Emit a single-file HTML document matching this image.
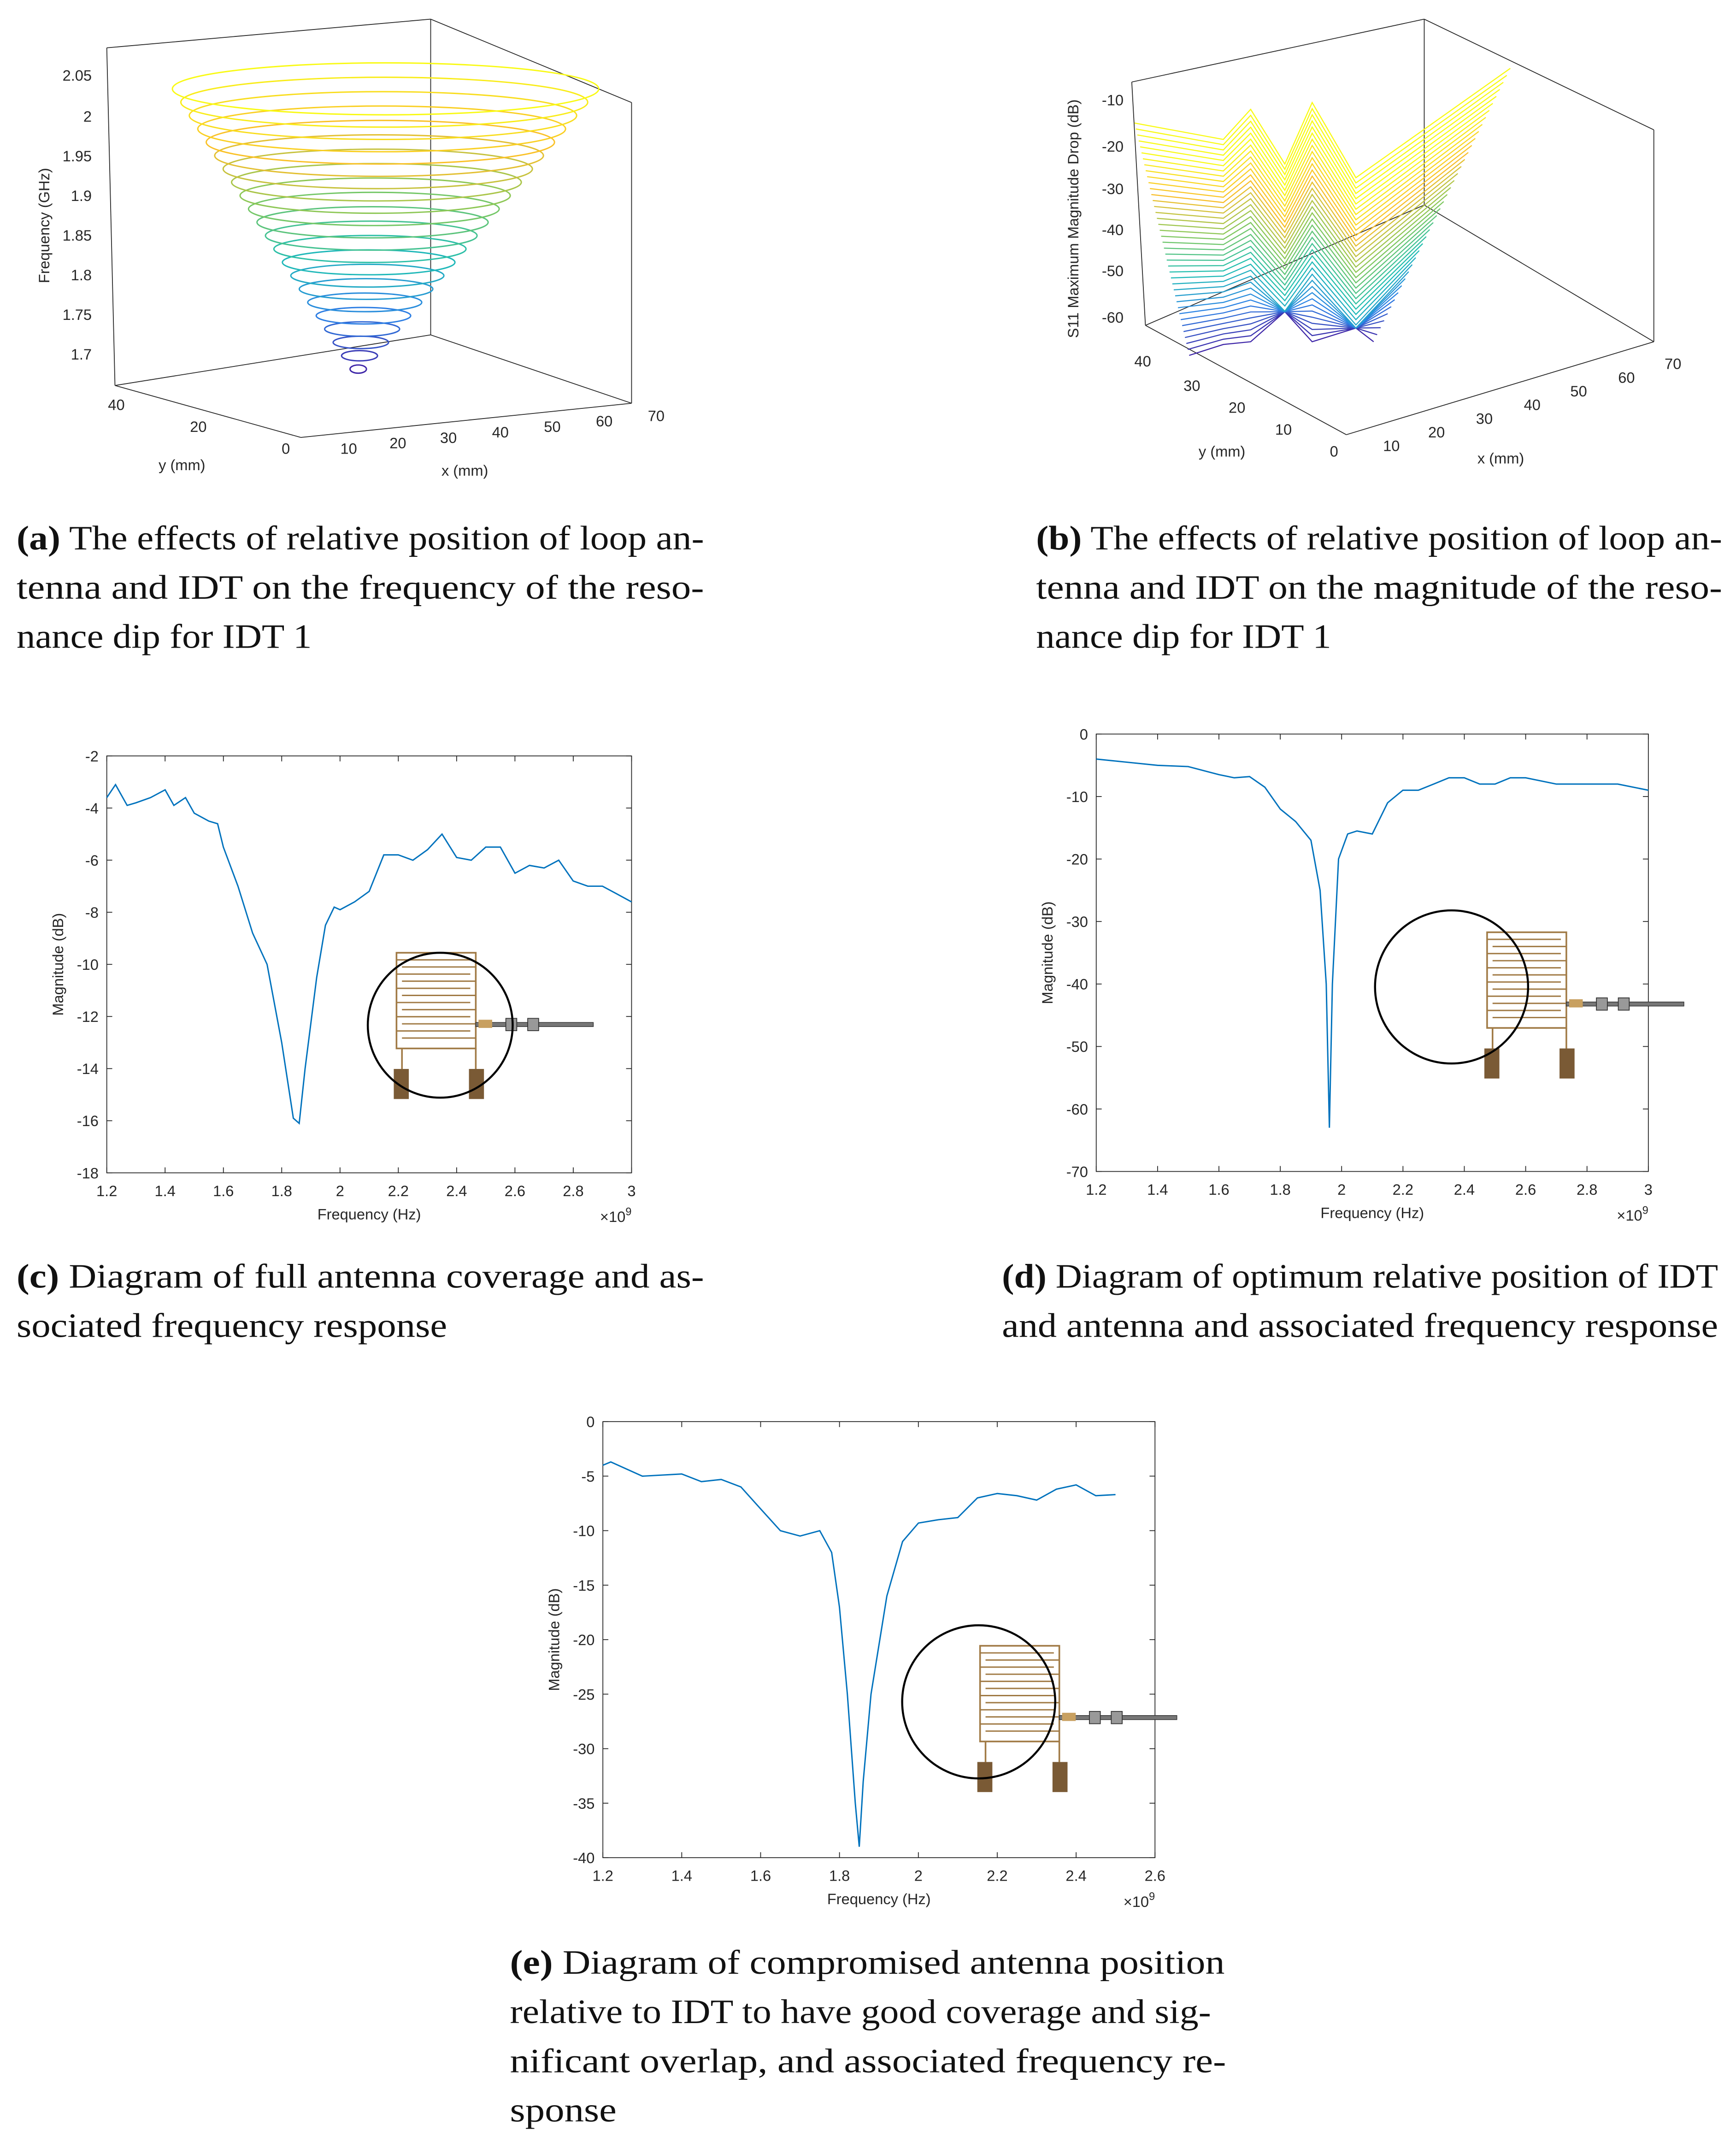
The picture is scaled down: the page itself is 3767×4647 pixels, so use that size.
<!DOCTYPE html>
<html><head><meta charset="utf-8"><style>
html,body{margin:0;padding:0;background:#fff}
svg{display:block}
.t{font-family:"Liberation Sans",sans-serif;font-size:11px;fill:#262626}
.cap{font-family:"Liberation Serif",serif;font-size:25px;fill:#111}
</style></head><body>
<svg id="fig" width="3767" height="4647" viewBox="0 0 1270 1567" xmlns="http://www.w3.org/2000/svg">
<g id="p3a"></g>
<g id="p3b"></g>
<g id="pc"></g>
<g id="pd"></g>
<g id="pe"></g>
<g>
<text class="cap" x="12" y="402" textLength="503" lengthAdjust="spacingAndGlyphs"><tspan font-weight="bold">(a)</tspan> The effects of relative position of loop an-</text>
<text class="cap" x="12" y="438" textLength="503" lengthAdjust="spacingAndGlyphs">tenna and IDT on the frequency of the reso-</text>
<text class="cap" x="12" y="474" textLength="216" lengthAdjust="spacingAndGlyphs">nance dip for IDT 1</text></g>
<g>
<text class="cap" x="758" y="402" textLength="502" lengthAdjust="spacingAndGlyphs"><tspan font-weight="bold">(b)</tspan> The effects of relative position of loop an-</text>
<text class="cap" x="758" y="438" textLength="502" lengthAdjust="spacingAndGlyphs">tenna and IDT on the magnitude of the reso-</text>
<text class="cap" x="758" y="474" textLength="216" lengthAdjust="spacingAndGlyphs">nance dip for IDT 1</text></g>
<g>
<text class="cap" x="12" y="942" textLength="503" lengthAdjust="spacingAndGlyphs"><tspan font-weight="bold">(c)</tspan> Diagram of full antenna coverage and as-</text>
<text class="cap" x="12" y="978" textLength="315" lengthAdjust="spacingAndGlyphs">sociated frequency response</text></g>
<g>
<text class="cap" x="733" y="942" textLength="524" lengthAdjust="spacingAndGlyphs"><tspan font-weight="bold">(d)</tspan> Diagram of optimum relative position of IDT</text>
<text class="cap" x="733" y="978" textLength="524" lengthAdjust="spacingAndGlyphs">and antenna and associated frequency response</text></g>
<g>
<text class="cap" x="373" y="1444" textLength="523" lengthAdjust="spacingAndGlyphs"><tspan font-weight="bold">(e)</tspan> Diagram of compromised antenna position</text>
<text class="cap" x="373" y="1480" textLength="513" lengthAdjust="spacingAndGlyphs">relative to IDT to have good coverage and sig-</text>
<text class="cap" x="373" y="1516" textLength="524" lengthAdjust="spacingAndGlyphs">nificant overlap, and associated frequency re-</text>
<text class="cap" x="373" y="1552" textLength="78" lengthAdjust="spacingAndGlyphs">sponse</text></g>
</svg>
<script>
const NS="http://www.w3.org/2000/svg";
function mk(p,tag,a,txt){const e=document.createElementNS(NS,tag);for(const k in a)e.setAttribute(k,a[k]);if(txt!==undefined)e.textContent=txt;p.appendChild(e);return e;}

// ---- data ----
const freqC=[1.2,1.23,1.27,1.3,1.35,1.4,1.43,1.47,1.5,1.55,1.58,1.6,1.65,1.7,1.75,1.8,1.84,1.86,1.88,1.92,1.95,1.98,2.0,2.05,2.1,2.15,2.2,2.25,2.3,2.35,2.4,2.45,2.5,2.55,2.6,2.65,2.7,2.75,2.8,2.85,2.9,2.95,3.0];
const magC=[-3.6,-3.1,-3.9,-3.8,-3.6,-3.3,-3.9,-3.6,-4.2,-4.5,-4.6,-5.5,-7,-8.8,-10,-13,-15.9,-16.1,-14,-10.5,-8.5,-7.8,-7.9,-7.6,-7.2,-5.8,-5.8,-6.0,-5.6,-5.0,-5.9,-6.0,-5.5,-5.5,-6.5,-6.2,-6.3,-6.0,-6.8,-7.0,-7.0,-7.3,-7.6];
const freqD=[1.2,1.3,1.4,1.5,1.6,1.65,1.7,1.75,1.8,1.85,1.9,1.93,1.95,1.96,1.97,1.99,2.02,2.05,2.1,2.15,2.2,2.25,2.3,2.35,2.4,2.45,2.5,2.55,2.6,2.65,2.7,2.8,2.9,3.0];
const magD=[-4,-4.5,-5,-5.2,-6.5,-7,-6.8,-8.5,-12,-14,-17,-25,-40,-63,-40,-20,-16,-15.5,-16,-11,-9,-9,-8,-7,-7,-8,-8,-7,-7,-7.5,-8,-8,-8,-9];
const freqE=[1.2,1.22,1.3,1.4,1.45,1.5,1.55,1.6,1.65,1.7,1.75,1.78,1.8,1.82,1.84,1.85,1.86,1.88,1.92,1.96,2.0,2.05,2.1,2.15,2.2,2.25,2.3,2.35,2.4,2.45,2.5];
const magE=[-4,-3.7,-5,-4.8,-5.5,-5.3,-6,-8,-10,-10.5,-10,-12,-17,-25,-35,-39,-33,-25,-16,-11,-9.3,-9,-8.8,-7,-6.6,-6.8,-7.2,-6.2,-5.8,-6.8,-6.7];
const xTicksCD=[1.2,1.4,1.6,1.8,2,2.2,2.4,2.6,2.8,3];
const yTicksC=[-2,-4,-6,-8,-10,-12,-14,-16,-18];
const yTicksD=[0,-10,-20,-30,-40,-50,-60,-70];
const xTicksE=[1.2,1.4,1.6,1.8,2,2.2,2.4,2.6];
const yTicksE=[0,-5,-10,-15,-20,-25,-30,-35,-40];

function plot2d(g,box,xd,yd,xt,yt,fx,my,inset){
  const [x0,y0,x1,y1]=box;
  const sx=v=>x0+(v-xd[0])/(xd[1]-xd[0])*(x1-x0);
  const sy=v=>y0+(yd[1]-v)/(yd[1]-yd[0])*(y1-y0);
  const r=mk(g,'rect',{x:x0,y:y0,width:x1-x0,height:y1-y0,fill:'#fff',stroke:'#262626','stroke-width':0.6});
  
  
  xt.forEach(v=>{const X=sx(v);mk(g,'line',{x1:X,y1:y1,x2:X,y2:y1-4,stroke:'#262626','stroke-width':0.6});mk(g,'line',{x1:X,y1:y0,x2:X,y2:y0+4,stroke:'#262626','stroke-width':0.6});
    const t=mk(g,'text',{class:'t',x:X,y:y1+17,'text-anchor':'middle'},String(v));});
  yt.forEach(v=>{const Y=sy(v);mk(g,'line',{x1:x0,y1:Y,x2:x0+4,y2:Y,stroke:'#262626','stroke-width':0.6});mk(g,'line',{x1:x1,y1:Y,x2:x1-4,y2:Y,stroke:'#262626','stroke-width':0.6});
    const t=mk(g,'text',{class:'t',x:x0-6,y:Y+4,'text-anchor':'end'},String(v));});
  const xl=mk(g,'text',{class:'t',x:(x0+x1)/2,y:y1+34,'text-anchor':'middle'},'Frequency (Hz)');
  
  const ex=mk(g,'text',{class:'t',x:x1,y:y1+36,'text-anchor':'end'},'×10');mk(ex,'tspan',{dy:-5,'font-size':8},'9');
  
  const yl=mk(g,'text',{class:'t',x:0,y:0,'text-anchor':'middle',transform:`translate(${x0-32},${(y0+y1)/2}) rotate(-90)`},'Magnitude (dB)');
  
  let d='';fx.forEach((f,i)=>{d+=(i?'L':'M')+sx(f).toFixed(1)+','+sy(my[i]).toFixed(1);});
  const p=mk(g,'path',{d:d,fill:'none',stroke:'#0072BD','stroke-width':1});
  
  const [cx,cy,cr,ix,iy]=inset;
  const ig=mk(g,'g',{});
  mk(ig,'rect',{x:ix,y:iy,width:58,height:70,fill:'none',stroke:'#a07a45','stroke-width':1.2});
  for(let k=1;k<13;k++){const yy=iy+k*5.2;mk(ig,'line',{x1:ix+(k%2?0:4),y1:yy,x2:ix+58-(k%2?4:0),y2:yy,stroke:'#a07a45','stroke-width':1});}
  mk(ig,'line',{x1:ix+4,y1:iy+70,x2:ix+4,y2:iy+85,stroke:'#a07a45','stroke-width':1.2});
  mk(ig,'line',{x1:ix+58,y1:iy+70,x2:ix+58,y2:iy+85,stroke:'#a07a45','stroke-width':1.2});
  mk(ig,'rect',{x:ix-2,y:iy+85,width:11,height:22,fill:'#7a5a35'});
  mk(ig,'rect',{x:ix+53,y:iy+85,width:11,height:22,fill:'#7a5a35'});
  mk(ig,'rect',{x:ix+58,y:iy+51,width:86,height:3,fill:'#777',stroke:'#333','stroke-width':0.5});
  mk(ig,'rect',{x:ix+80,y:iy+48,width:8,height:9,fill:'#999',stroke:'#333','stroke-width':0.6});
  mk(ig,'rect',{x:ix+96,y:iy+48,width:8,height:9,fill:'#999',stroke:'#333','stroke-width':0.6});
  mk(ig,'rect',{x:ix+60,y:iy+49,width:10,height:6,fill:'#c8a060'});
  mk(ig,'circle',{cx:cx,cy:cy,r:cr,fill:'none',stroke:'#000','stroke-width':1.5});
}
plot2d(document.getElementById('pc'),[78,553,462,858],[1.2,3],[-18,-2],xTicksCD,yTicksC,freqC,magC,[322,750,53,290,697]);
plot2d(document.getElementById('pd'),[802,537,1206,857],[1.2,3],[-70,0],xTicksCD,yTicksD,freqD,magD,[1062,722,56,1088,682]);
plot2d(document.getElementById('pe'),[441,1040,845,1359],[1.2,2.6],[-40,0],xTicksE,yTicksE,freqE,magE,[716,1245,56,717,1204]);

function col(t){const c=[[62,38,168],[44,130,230],[30,190,180],[130,200,90],[250,190,40],[249,250,20]];const s=t*(c.length-1),i=Math.min(Math.floor(s),c.length-2),f=s-i;return 'rgb('+c[i].map((v,k)=>Math.round(v+(c[i+1][k]-v)*f)).join(',')+')';}
function frame(g,pts){const [a,b,c,d,e,f]=pts;
  [[a,b],[b,c],[b,e],[a,d],[d,e],[e,f],[c,f]].forEach(([p,q])=>mk(g,'line',{x1:p[0],y1:p[1],x2:q[0],y2:q[1],stroke:'#262626','stroke-width':0.6}));}
(function(){const g=document.getElementById('p3a');
  frame(g,[[78,35],[315,14],[462,75],[84,282],[315,245],[462,295]]);
  mk(g,'line',{x1:84,y1:282,x2:220,y2:320,stroke:'#262626','stroke-width':0.6});
  mk(g,'line',{x1:220,y1:320,x2:462,y2:295,stroke:'#262626','stroke-width':0.6});
  [['2.05',55],['2',85],['1.95',114],['1.9',143],['1.85',172],['1.8',201],['1.75',230],['1.7',259]].forEach(([s,y])=>mk(g,'text',{class:'t',x:67,y:y+4,'text-anchor':'end'},s));
  mk(g,'text',{class:'t',transform:'translate(36,165) rotate(-90)','text-anchor':'middle'},'Frequency (GHz)');
  [['10',255,332],['20',291,328],['30',328,324],['40',366,320],['50',404,316],['60',442,312],['70',480,308]].forEach(([s,x,y])=>mk(g,'text',{class:'t',x:x,y:y,'text-anchor':'middle'},s));
  [['40',85,300],['20',145,316],['0',209,332]].forEach(([s,x,y])=>mk(g,'text',{class:'t',x:x,y:y,'text-anchor':'middle'},s));
  mk(g,'text',{class:'t',x:340,y:348,'text-anchor':'middle'},'x (mm)');
  mk(g,'text',{class:'t',x:133,y:344,'text-anchor':'middle'},'y (mm)');
  for(let k=0;k<22;k++){const t=k/21,cy=270-t*205,cx=262+t*20,w=6+t*150,h=3+t*16;
    mk(g,'ellipse',{cx:cx,cy:cy,rx:w,ry:h,fill:'none',stroke:col(t),'stroke-width':1});}
})();
(function(){const g=document.getElementById('p3b');
  frame(g,[[828,60],[1042,14],[1210,95],[838,238],[1042,150],[1210,250]]);
  mk(g,'line',{x1:838,y1:238,x2:985,y2:318,stroke:'#262626','stroke-width':0.6});
  mk(g,'line',{x1:985,y1:318,x2:1210,y2:250,stroke:'#262626','stroke-width':0.6});
  [['-10',73],['-20',107],['-30',138],['-40',168],['-50',198],['-60',232]].forEach(([s,y])=>mk(g,'text',{class:'t',x:822,y:y+4,'text-anchor':'end'},s));
  mk(g,'text',{class:'t',transform:'translate(789,160) rotate(-90)','text-anchor':'middle'},'S11 Maximum Magnitude Drop (dB)');
  [['10',1018,330],['20',1051,320],['30',1086,310],['40',1121,300],['50',1155,290],['60',1190,280],['70',1224,270]].forEach(([s,x,y])=>mk(g,'text',{class:'t',x:x,y:y,'text-anchor':'middle'},s));
  [['40',836,268],['30',872,286],['20',905,302],['10',939,318],['0',976,334]].forEach(([s,x,y])=>mk(g,'text',{class:'t',x:x,y:y,'text-anchor':'middle'},s));
  mk(g,'text',{class:'t',x:1098,y:339,'text-anchor':'middle'},'x (mm)');
  mk(g,'text',{class:'t',x:894,y:334,'text-anchor':'middle'},'y (mm)');
  for(let k=0;k<40;k++){const t=k/39,y=250-t*150;
    let d='M'+(870-t*40)+','+(y-t*20+10)+'L895,'+(y+2)+'L'+(915)+','+(y-t*20)+'L940,'+(Math.min(y+20,228))+'L'+(960)+','+(y-t*25)+'L992,'+(Math.min(y+30,240))+'L'+(1005+t*100)+','+(y-t*50);
    mk(g,'path',{d:d,fill:'none',stroke:col(Math.min(1,t*1.15)),'stroke-width':0.8});}
})();
</script>
</body></html>
